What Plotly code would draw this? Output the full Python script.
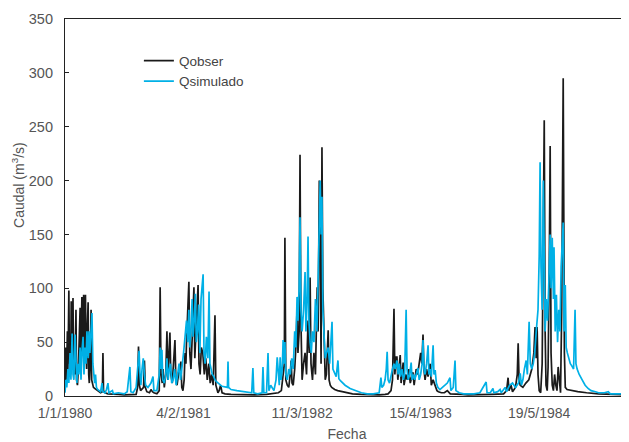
import pandas as pd
import plotly.graph_objects as go

start = pd.Timestamp("1980-01-01")

# Observed discharge (Qobser): day offset from 1/1/1980, value m3/s
obs_day = [0,3,5,8,10,13,15,17,19,21,23,25,27,29,31,34,37,39,42,45,48,51,53,55,57,59,61,63,65,67,69,71,73,75,78,80,82,85,88,90,93,96,100,105,110,115,120,126,128,130,135,145,160,180,200,220,240,
           245,248,251,255,265,268,271,276,285,290,295,300,310,318,321,324,328,331,335,340,344,347,350,354,357,362,366,371,374,378,383,388,391,394,398,402,405,408,410,414,418,421,425,430,435,438,442,446,449,452,456,460,465,470,475,480,485,490,495,500,503,506,509,512,516,520,525,530,540,560,600,640,680,700,720,
           730,736,740,742,745,750,755,760,763,766,770,775,780,783,786,790,793,796,800,805,810,815,820,824,827,830,835,840,845,851,854,858,861,864,867,870,874,878,882,888,891,895,900,910,920,935,950,970,1000,1040,1060,1080,1090,
           1100,1105,1110,1113,1117,1120,1123,1131,1134,1141,1144,1150,1155,1160,1165,1174,1178,1185,1190,1200,1204,1208,1211,1215,1220,1225,1232,1236,1242,1250,1255,1260,1270,1280,1290,1300,1320,1340,1360,1400,1440,1480,
           1490,1495,1498,1505,1510,1520,1526,1529,1532,1536,1545,1555,1565,1575,1582,1586,1590,1593,1596,1600,1605,1610,1614,1617,1620,1623,1627,1630,1634,1637,1640,1644,1648,1652,1656,1660,1664,1668,1672,1676,1681,1685,1688,1694,1710,1730,1760,1800,1850,1900]
obs_q = [5,45,15,60,25,98,30,55,20,88,35,70,91,30,50,20,80,15,10,25,60,82,30,85,92,40,75,94,35,60,94,45,25,60,87,20,12,30,80,15,10,8,7,6,5,4,3,4,40,5,3,2,2,1.5,1,1,1.5,
         8,46,10,5,8,33,8,4,3,6,4,3,2,5,101,20,12,25,8,20,60,15,35,59,20,12,30,52,15,10,20,25,32,8,5,15,40,30,50,85,106,40,25,60,101,35,60,80,103,30,20,45,40,20,35,15,30,12,20,10,40,75,10,6,3,5,10,3,2,1.5,1,1,1.5,2,3,
         5,20,30,147,15,10,8,20,33,12,10,25,50,83,40,60,224,70,15,30,40,20,70,40,110,30,15,40,20,101,60,200,150,30,231,100,40,15,20,61,15,10,8,6,5,4,3,2,1.5,1,1,1.5,2,
         5,15,81,20,36,36,15,38,12,31,10,20,15,25,12,22,10,25,20,40,30,57,25,15,25,18,30,10,15,8,5,4,3,3,5,2,2,1.5,1,1,1.5,2,
         5,17,5,10,4,8,20,49,15,10,8,12,15,25,40,64,35,64,20,5,3,30,150,256,60,10,5,27,120,232,40,10,5,20,10,5,27,10,3,80,295,40,8,6,5,4,3,2,1.5,1]

# Simulated discharge (Qsimulado)
sim_day = [0,3,6,10,13,17,20,24,27,30,34,37,40,44,47,51,54,57,61,64,67,71,74,78,81,84,88,91,94,97,100,103,106,110,115,120,125,128,135,140,145,148,160,163,180,200,210,219,222,230,240,
           245,250,253,256,260,264,268,272,280,290,297,300,310,318,321,324,327,330,335,340,344,348,352,356,360,365,370,375,380,385,390,395,400,405,410,414,418,421,425,429,432,436,440,443,447,451,455,459,466,469,473,477,482,486,489,493,497,502,506,512,520,530,548,550,552,560,580,600,620,630,
           634,637,650,665,668,671,680,685,688,694,705,712,716,719,723,726,729,733,736,739,742,745,750,755,760,765,770,775,779,783,786,790,793,796,800,805,810,813,817,820,823,827,831,835,840,845,850,855,858,861,864,867,870,874,878,882,888,893,901,904,910,915,921,924,930,945,962,980,1000,1020,1040,1060,
           1066,1069,1075,1080,1084,1087,1090,1095,1100,1105,1110,1114,1120,1124,1128,1132,1137,1142,1146,1151,1154,1158,1163,1168,1171,1176,1180,1186,1191,1195,1200,1205,1208,1211,1215,1220,1225,1228,1232,1236,1242,1245,1249,1253,1258,1265,1275,1282,1290,1299,1302,1310,1316,1319,1330,1345,1360,1380,1400,
           1421,1424,1435,1444,1447,1460,1468,1472,1485,1490,1500,1510,1520,1530,1536,1540,1545,1550,1556,1560,1566,1570,1575,1580,1585,1590,1596,1600,1603,1606,1610,1614,1617,1620,1624,1628,1632,1637,1640,1644,1648,1650,1654,1658,1662,1666,1670,1674,1681,1684,1688,1691,1695,1700,1705,1710,1716,1721,1724,1728,1735,1745,1755,1765,1775,1790,1800,1820,1833,1840,1870,1900]
sim_q = [3,15,8,25,12,40,15,58,20,15,57,25,12,30,20,45,15,40,55,20,45,30,60,35,60,40,65,77,30,15,12,20,8,6,5,4,12,4,3,6,12,3,5,2,3,2,4,27,4,3,8,
         30,42,20,10,25,35,20,10,8,12,18,5,5,20,45,25,43,15,12,20,35,15,25,30,12,15,25,10,20,30,15,25,40,55,70,50,80,45,60,90,55,70,95,50,60,85,40,90,113,40,30,55,35,97,30,25,20,18,15,13,11,9,8,32,8,6,5,4,3,3,
         26,3,2,3,27,3,3,40,5,10,5,15,36,20,10,36,15,25,52,30,50,20,15,25,20,35,25,60,45,92,70,100,166,80,60,80,115,60,90,148,70,50,40,60,50,90,60,120,187,200,150,185,80,50,35,40,45,30,69,25,20,18,33,16,14,10,7,5,3,2,2,3,
         17,8,10,15,25,41,15,12,20,25,30,25,33,20,30,18,25,15,20,80,25,15,20,31,15,20,15,20,26,15,20,30,52,25,20,30,47,20,25,18,47,20,24,12,8,6,8,10,12,17,5,8,33,5,3,2,2,2,3,
         13,3,3,7,3,4,6,3,8,4,10,12,8,12,21,10,15,25,33,20,69,30,25,30,40,60,80,130,217,120,80,200,140,60,90,70,100,150,100,147,90,138,60,94,50,80,60,120,161,60,103,45,40,35,30,28,25,80,30,25,20,15,10,7,5,4,3,3,4,2,2,2]

tick_days = [0, 400, 800, 1200, 1600]
tick_labels = ["1/1/1980", "4/2/1981", "11/3/1982", "15/4/1983", "19/5/1984"]

def to_dates(days):
    return [start + pd.Timedelta(days=d) for d in days]

fig = go.Figure()
fig.add_trace(go.Scatter(x=to_dates(obs_day), y=obs_q, mode="lines", name="Qobser",
                         line=dict(color="#1a1a1a", width=1.7)))
fig.add_trace(go.Scatter(x=to_dates(sim_day), y=sim_q, mode="lines", name="Qsimulado",
                         line=dict(color="#00b0e6", width=1.7)))

gray = "#555555"
# page body has an 8px margin, so the figure is 621x434 placed at (8,8)
fig.update_layout(
    width=621, height=434,
    margin=dict(l=57, r=0, t=11, b=46, autoexpand=False),
    paper_bgcolor="white", plot_bgcolor="white",
    font=dict(family="Liberation Sans, Arial, sans-serif", size=14, color=gray),
    legend=dict(x=0.131, y=0.93, xanchor="left", yanchor="top",
                bgcolor="rgba(0,0,0,0)", font=dict(size=13.5, color="#444"),
                tracegroupgap=0),
    xaxis=dict(
        range=[start, start + pd.Timedelta(days=1903)],
        tickvals=to_dates(tick_days), ticktext=tick_labels,
        showgrid=False, zeroline=False, automargin=False,
        showline=True, linecolor="#222", linewidth=1.2, mirror=True,
        ticks="", ticklabelstandoff=4, tickfont=dict(size=14, color=gray),
        title=dict(text="Fecha", font=dict(size=14, color=gray), standoff=17),
    ),
    yaxis=dict(
        range=[0, 350], dtick=50, automargin=False,
        showgrid=False, zeroline=False,
        showline=True, linecolor="#222", linewidth=1.2,
        ticks="inside", ticklen=4, tickcolor="#222", ticklabelstandoff=8,
        tickfont=dict(size=14.5, color=gray),
    ),
    annotations=[dict(text="Caudal (m<sup>3</sup>/s)", xref="paper", yref="paper",
                      x=0, y=0.56, xshift=-47, xanchor="center", yanchor="middle",
                      textangle=-90, showarrow=False,
                      font=dict(size=14, color=gray))],
)

fig.write_html("out.html")
